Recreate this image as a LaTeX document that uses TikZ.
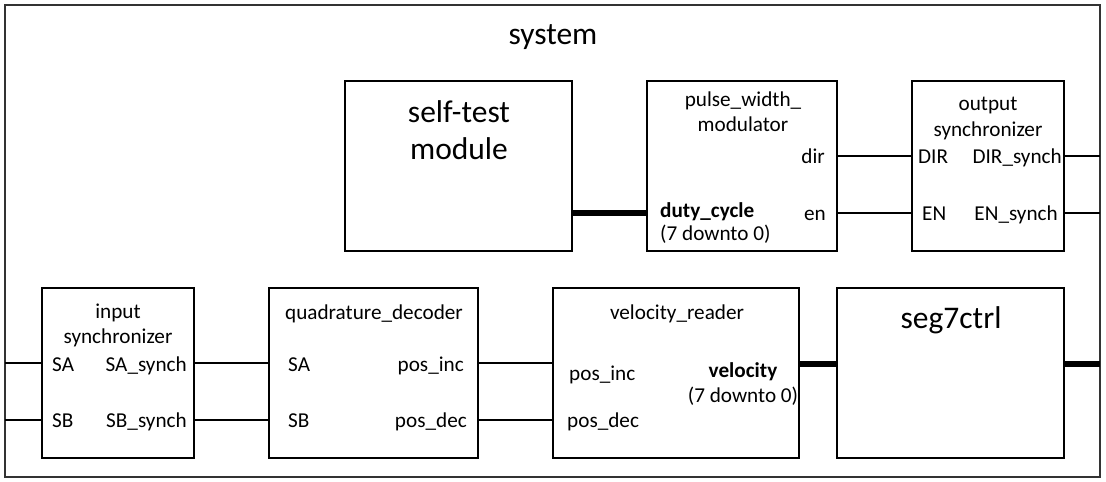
\documentclass[tikz,border=0pt]{standalone}
\usepackage{fontspec}
\setmainfont{Carlito}
\newcommand\smallfnt{\fontsize{21.2}{25}\selectfont}
\newcommand\largefnt{\fontsize{31.5}{37}\selectfont}
\begin{document}
\begin{tikzpicture}[x=1pt,y=-1pt,
  blk/.style={draw=black, line width=1.8pt, anchor=north west, inner sep=0pt, outer sep=0pt},
  wire/.style={line width=1.8pt, draw=black},
  bus/.style={line width=6pt, draw=black},
  sl/.style={font=\smallfnt, inner sep=0pt},
  ll/.style={font=\largefnt, inner sep=0pt},
]
\useasboundingbox (0,0) rectangle (1106,482);
% outer system box
\node[blk, draw=black!80, minimum width=1095pt, minimum height=472pt] (sys) at (5,5) {};
\node[ll, anchor=base] (systitle) at (553,44) {system};
% blocks
\node[blk, minimum width=227pt, minimum height=170pt] (st)  at (345,81) {};
\node[blk, minimum width=190pt, minimum height=170pt] (pwm) at (647,81) {};
\node[blk, minimum width=152pt, minimum height=170pt] (os)  at (912,81) {};
\node[blk, minimum width=152pt, minimum height=170pt] (is)  at (42,288) {};
\node[blk, minimum width=209pt, minimum height=170pt] (qd)  at (269,288) {};
\node[blk, minimum width=246pt, minimum height=170pt] (vr)  at (553,288) {};
\node[blk, minimum width=227pt, minimum height=170pt] (s7)  at (837,288) {};
% self-test texts
\node[ll, anchor=base] (st1) at (459,122) {self-test};
\node[ll, anchor=base] (st2) at (459,159) {module};
% pwm texts
\node[sl, anchor=base] (pw1) at (743,106) {pulse\_width\_};
\node[sl, anchor=base] (pw2) at (743,131) {modulator};
\node[sl, anchor=base east] (pwdir) at (825,163) {dir};
\node[sl, anchor=base east] (pwen) at (826,220) {en};
\node[sl, anchor=base west] (pwdc) at (660,217) {\bfseries duty\_cycle};
\node[sl, anchor=base west] (pwdc2) at (660,240) {(7 downto 0)};
% output synchronizer texts
\node[sl, anchor=base] (os1) at (988,110) {output};
\node[sl, anchor=base] (os2) at (988,136) {synchronizer};
\node[sl, anchor=base west] (osdir) at (918,163) {DIR};
\node[sl, anchor=base east] (osdirs) at (1062,163) {DIR\_synch};
\node[sl, anchor=base west] (osen) at (922,220) {EN};
\node[sl, anchor=base east] (osens) at (1058,220) {EN\_synch};
% input synchronizer texts
\node[sl, anchor=base] (is1) at (118,318) {input};
\node[sl, anchor=base] (is2) at (118,343) {synchronizer};
\node[sl, anchor=base west] (issa) at (52,371) {SA};
\node[sl, anchor=base east] (issas) at (187,371) {SA\_synch};
\node[sl, anchor=base west] (issb) at (52,427) {SB};
\node[sl, anchor=base east] (issbs) at (187,427) {SB\_synch};
% quadrature decoder texts
\node[sl, anchor=base] (qd1) at (374,319) {quadrature\_decoder};
\node[sl, anchor=base west] (qdsa) at (288,371) {SA};
\node[sl, anchor=base west] (qdsb) at (288,427) {SB};
\node[sl, anchor=base east] (qdinc) at (464,371) {pos\_inc};
\node[sl, anchor=base east] (qddec) at (467,427) {pos\_dec};
% velocity reader texts
\node[sl, anchor=base] (vr1) at (677,319) {velocity\_reader};
\node[sl, anchor=base west] (vrinc) at (569,380) {pos\_inc};
\node[sl, anchor=base west] (vrdec) at (567,427) {pos\_dec};
\node[sl, anchor=base] (vrv) at (743,377) {\bfseries velocity};
\node[sl, anchor=base] (vrv2) at (743,402) {(7 downto 0)};
% seg7ctrl
\node[ll, anchor=base] (s71) at (951,328) {seg7ctrl};
% signal rows
\coordinate (rA) at (0,156);
\coordinate (rB) at (0,213);
\coordinate (rC) at (0,363);
\coordinate (rD) at (0,420);
\coordinate (rE) at (0,364);
% connectors
\draw[bus]  (st.east |- rB) -- (pwm.west |- rB);
\draw[wire] (pwm.east |- rA) -- (os.west |- rA);
\draw[wire] (pwm.east |- rB) -- (os.west |- rB);
\draw[wire] (os.east |- rA) -- (sys.east |- rA);
\draw[wire] (os.east |- rB) -- (sys.east |- rB);
\draw[wire] (sys.west |- rC) -- (is.west |- rC);
\draw[wire] (sys.west |- rD) -- (is.west |- rD);
\draw[wire] (is.east |- rC) -- (qd.west |- rC);
\draw[wire] (is.east |- rD) -- (qd.west |- rD);
\draw[wire] (qd.east |- rC) -- (vr.west |- rC);
\draw[wire] (qd.east |- rD) -- (vr.west |- rD);
\draw[bus]  (vr.east |- rE) -- (s7.west |- rE);
\draw[bus]  (s7.east |- rE) -- (sys.east |- rE);
\end{tikzpicture}
\end{document}
